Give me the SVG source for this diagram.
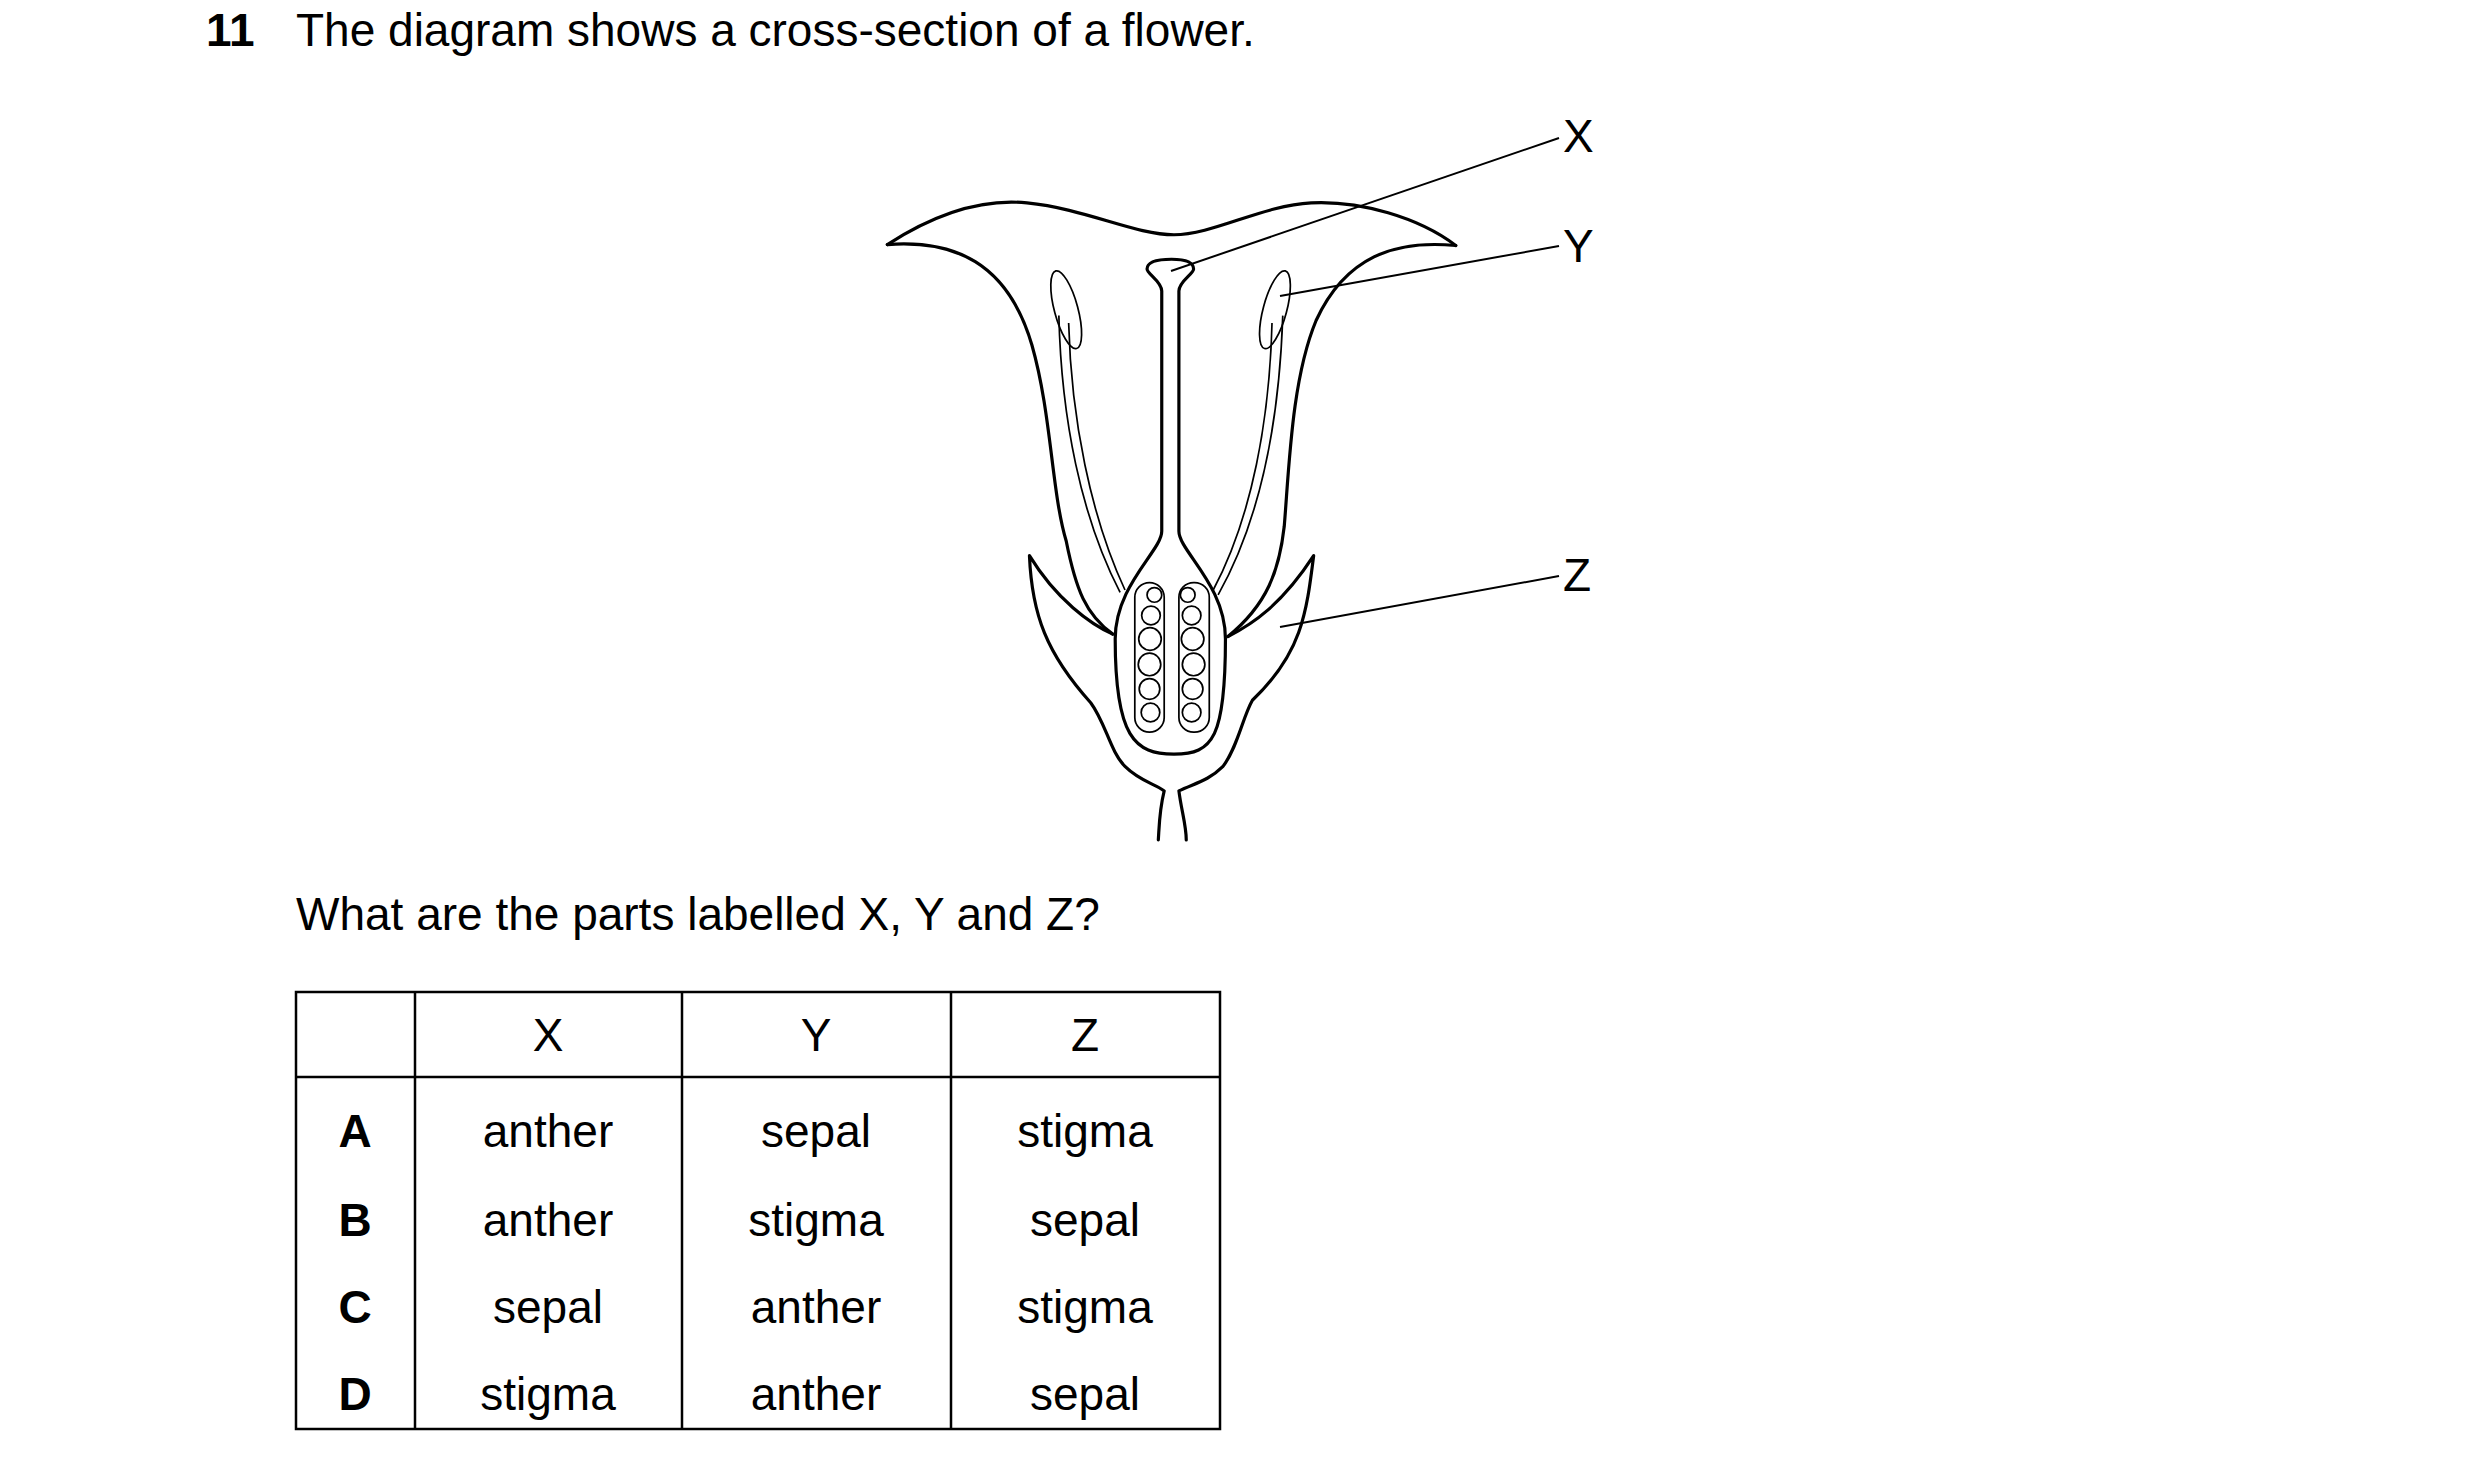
<svg xmlns="http://www.w3.org/2000/svg" width="2480" height="1470" viewBox="0 0 2480 1470">
<style>
text{font-family:"Liberation Sans",Arial,sans-serif;font-size:46px;fill:#000}
.b{font-weight:bold}
.f{fill:none;stroke:#000;stroke-width:6.5;stroke-linejoin:round;stroke-linecap:round}
.t{fill:none;stroke:#000;stroke-width:3.5}
.g{stroke:#000;stroke-width:2;fill:none}
.k{stroke:#000;stroke-width:2.5}
</style>
<rect width="2480" height="1470" fill="#fff"/>
<text x="206" y="46" class="b">11</text>
<text x="296" y="46">The diagram shows a cross-section of a flower.</text>
<g id="flower" transform="translate(880,100) scale(0.49)">
<path class="f" d="M15,295 C100,240 200,200 300,210 C420,222 520,275 600,275 C680,275 780,215 880,210 C980,205 1100,240 1175,297"/>
<path class="f" d="M15,295 C150,285 260,330 310,500 C350,640 350,800 380,900 C400,1000 420,1050 475,1090"/>
<path class="f" d="M1175,297 C1050,285 950,320 890,450 C840,570 835,750 825,870 C815,960 790,1030 710,1095"/>
<path class="f" d="M475,1090 C430,1070 360,1020 305,930 C310,1050 340,1130 430,1230 C460,1270 470,1330 500,1360 C530,1390 560,1395 580,1410 C570,1450 570,1480 568,1510"/>
<path class="f" d="M710,1095 C760,1070 820,1030 885,930 C870,1050 860,1130 760,1225 C740,1260 730,1320 700,1360 C670,1390 640,1395 610,1410 C615,1450 625,1480 625,1510"/>
<path class="f" d="M575,390 L575,880 C575,920 480,990 480,1100 C480,1300 520,1335 600,1335 C680,1335 705,1300 705,1100 C705,990 610,920 610,880 L610,390 C610,370 640,355 640,345 C640,330 620,325 595,325 C565,325 545,330 545,345 C545,355 575,370 575,390 Z"/>
<rect class="t" x="520" y="985" width="60" height="305" rx="30"/>
<rect class="t" x="610" y="985" width="62" height="305" rx="30"/>
<g class="t">
<circle cx="560" cy="1010" r="15"/><circle cx="553" cy="1052" r="19"/><circle cx="551" cy="1100" r="23"/><circle cx="550" cy="1152" r="23"/><circle cx="550" cy="1202" r="21"/><circle cx="552" cy="1250" r="19"/>
<circle cx="628" cy="1010" r="15"/><circle cx="636" cy="1052" r="19"/><circle cx="638" cy="1100" r="23"/><circle cx="640" cy="1152" r="23"/><circle cx="638" cy="1202" r="21"/><circle cx="636" cy="1250" r="19"/>
</g>
<path class="t" d="M365,440 C370,650 410,850 490,1005"/>
<path class="t" d="M385,455 C390,650 430,850 500,1000"/>
<path class="t" d="M822,440 C815,650 780,850 690,1010"/>
<path class="t" d="M800,455 C795,650 760,850 680,1000"/>
<ellipse class="t" cx="380" cy="428" rx="24" ry="82" transform="rotate(-15 380 428)" fill="#fff"/>
<ellipse class="t" cx="806" cy="428" rx="24" ry="82" transform="rotate(15 806 428)" fill="#fff"/>
</g>
<g id="connectors">
<line class="g" x1="1559" y1="138" x2="1171" y2="271"/>
<line class="g" x1="1559" y1="246" x2="1280" y2="296"/>
<line class="g" x1="1559" y1="576" x2="1280" y2="627"/>
</g>
<text x="1563" y="152">X</text>
<text x="1563" y="262">Y</text>
<text x="1563" y="591">Z</text>
<text x="296" y="930">What are the parts labelled X, Y and Z?</text>
<g id="table">
<rect x="296" y="992" width="924" height="437" fill="none" class="k"/>
<line x1="296" y1="1077" x2="1220" y2="1077" class="k"/>
<line x1="415" y1="992" x2="415" y2="1429" class="k"/>
<line x1="682" y1="992" x2="682" y2="1429" class="k"/>
<line x1="951" y1="992" x2="951" y2="1429" class="k"/>
<g text-anchor="middle">
<text x="548" y="1051">X</text><text x="816" y="1051">Y</text><text x="1085" y="1051">Z</text>
<text x="355" y="1147" class="b">A</text><text x="548" y="1147">anther</text><text x="816" y="1147">sepal</text><text x="1085" y="1147">stigma</text>
<text x="355" y="1236" class="b">B</text><text x="548" y="1236">anther</text><text x="816" y="1236">stigma</text><text x="1085" y="1236">sepal</text>
<text x="355" y="1323" class="b">C</text><text x="548" y="1323">sepal</text><text x="816" y="1323">anther</text><text x="1085" y="1323">stigma</text>
<text x="355" y="1410" class="b">D</text><text x="548" y="1410">stigma</text><text x="816" y="1410">anther</text><text x="1085" y="1410">sepal</text>
</g>
</g>
</svg>
